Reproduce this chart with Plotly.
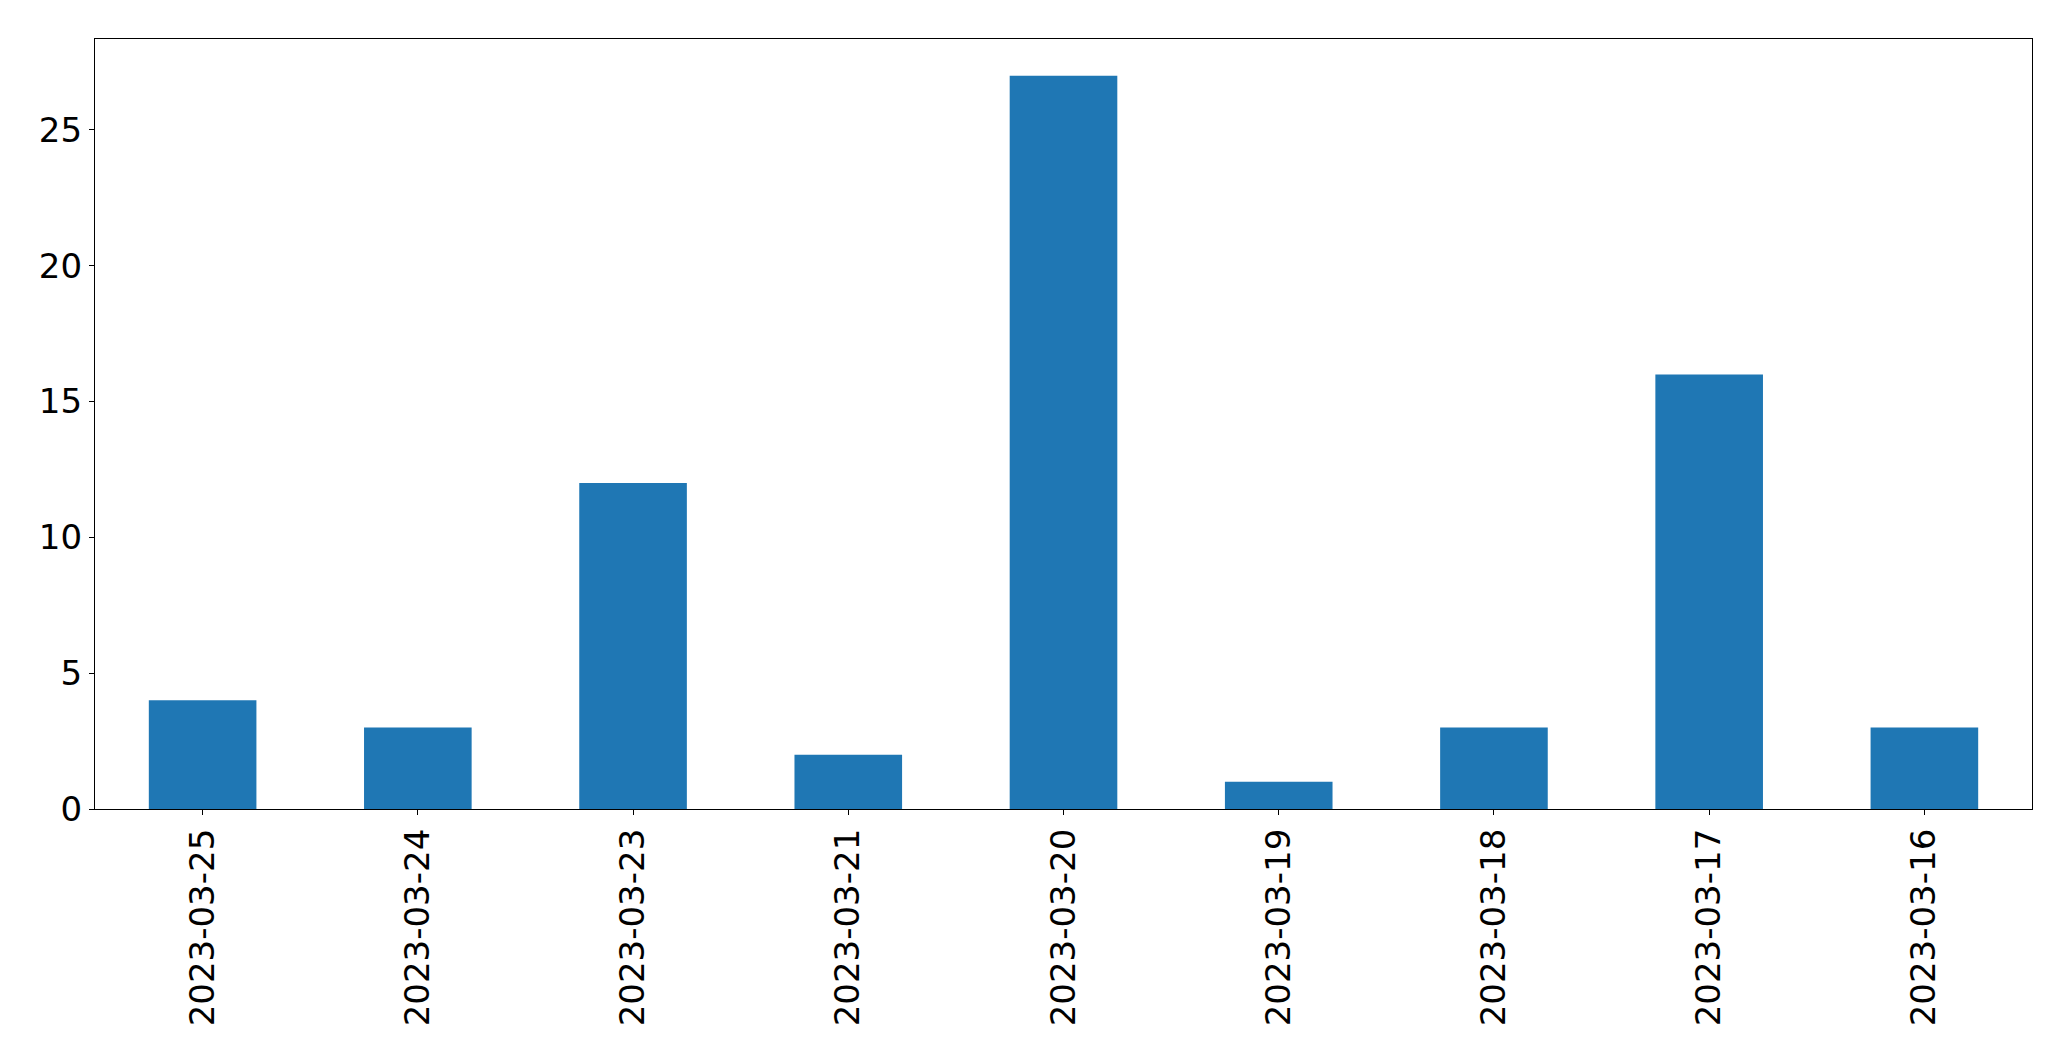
import plotly.graph_objects as go

dates = ["2023-03-25", "2023-03-24", "2023-03-23", "2023-03-21", "2023-03-20",
         "2023-03-19", "2023-03-18", "2023-03-17", "2023-03-16"]
counts = [4, 3, 12, 2, 27, 1, 3, 16, 3]
y_ticks = [0, 5, 10, 15, 20, 25]

fig = go.Figure(go.Bar(x=dates, y=counts, marker=dict(color="#1f77b4", line=dict(width=0)), width=0.5))

axis_common = dict(
    showline=True, linecolor="black", linewidth=1.3, mirror=True,
    ticks="outside", ticklen=5, tickwidth=1.3, tickcolor="black",
    showgrid=False, zeroline=False,
    tickfont=dict(family="DejaVu Sans", size=34, color="black"),
)

fig.update_layout(
    width=2071, height=1061,
    margin=dict(l=95, r=39, t=39, b=252, autoexpand=False),
    paper_bgcolor="white", plot_bgcolor="white",
    showlegend=False,
    xaxis=dict(type="category", range=[-0.5, 8.5], tickangle=-90, **axis_common),
    yaxis=dict(range=[0, 28.35], tickvals=y_ticks, **axis_common),
)

fig.write_html("out.html", config={"displayModeBar": False},
               post_script="document.body.style.margin='0';document.body.style.overflow='hidden';")
